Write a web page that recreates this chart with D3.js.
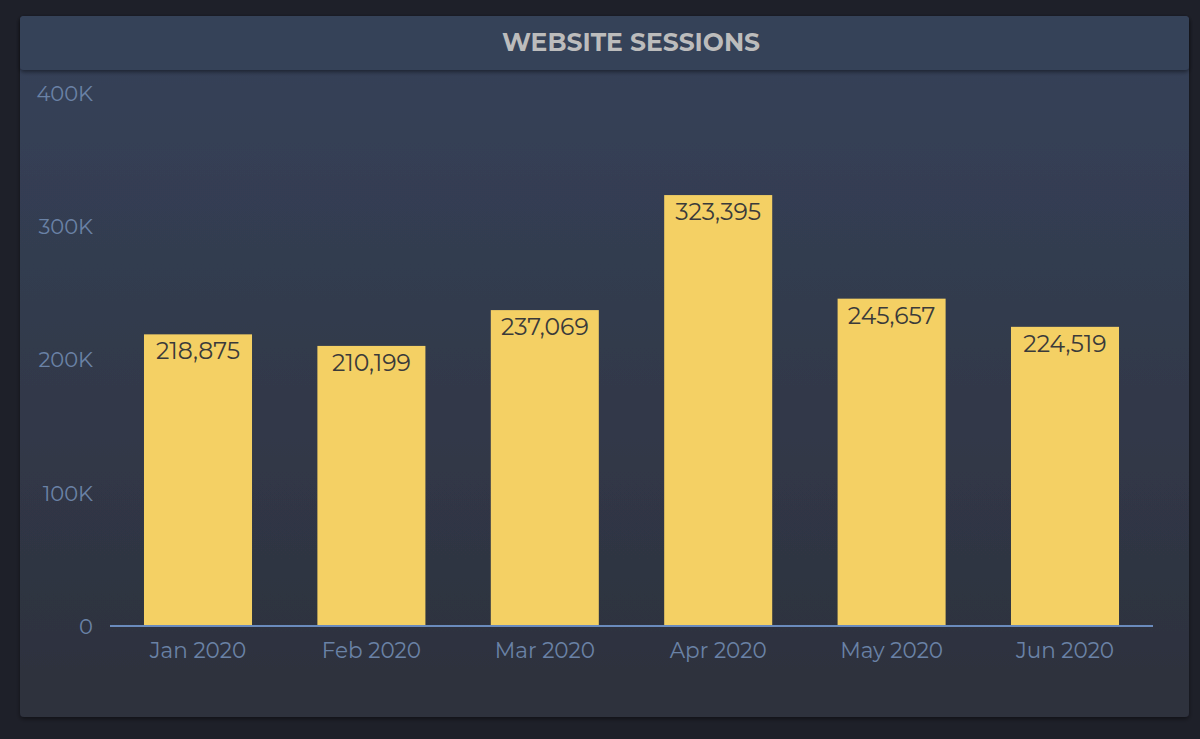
<!DOCTYPE html>
<html><head><meta charset="utf-8">
<script src="https://cdn.jsdelivr.net/npm/d3@7"></script>
<style>
html,body{margin:0;padding:0;background:#1e2029;}
svg{display:block;}
</style></head>
<body>
<svg id="chart" width="1200" height="739"></svg>
<script>
const title = "WEBSITE SESSIONS";
const months = ["Jan 2020","Feb 2020","Mar 2020","Apr 2020","May 2020","Jun 2020"];
const sessions = [218875, 210199, 237069, 323395, 245657, 224519];
const yTicks = [0, 100000, 200000, 300000, 400000];

const FONT = "Montserrat, 'DejaVu Sans', sans-serif";
const svg = d3.select("#chart");
const defs = svg.append("defs");

const bg = defs.append("linearGradient").attr("id","bodyGrad").attr("x1",0).attr("y1",0).attr("x2",0).attr("y2",1);
bg.append("stop").attr("offset","0%").attr("stop-color","#36425a");
bg.append("stop").attr("offset","100%").attr("stop-color","#2d313c");

const sh = defs.append("filter").attr("id","shadow").attr("x","-5%").attr("y","-5%").attr("width","110%").attr("height","115%");
sh.append("feDropShadow").attr("dx",0).attr("dy",2).attr("stdDeviation",2).attr("flood-color","#000").attr("flood-opacity",0.45);

// panel
svg.append("rect").attr("x",20).attr("y",16).attr("width",1169).attr("height",701)
  .attr("rx",4).attr("fill","url(#bodyGrad)").attr("filter","url(#shadow)");
// header
svg.append("rect").attr("x",20).attr("y",16).attr("width",1169).attr("height",54)
  .attr("rx",4).attr("fill","#354259").attr("filter","url(#shadow)");

svg.append("text").attr("x",631).attr("y",51).attr("text-anchor","middle")
  .attr("font-family",FONT).attr("font-weight","bold").attr("font-size",25)
  .attr("fill","#bcbcbc").text(title);

const x = d3.scaleBand().domain(months).range([110,1153]).paddingInner(0.377).paddingOuter(0.196);
const y = d3.scaleLinear().domain([0,400000]).range([626,93]);

const g = svg.append("g");

// bars
g.selectAll("rect.bar").data(sessions).join("rect").attr("class","bar")
  .attr("x",(d,i)=>x(months[i])).attr("width",x.bandwidth())
  .attr("y",d=>y(d)).attr("height",d=>y(0)-y(d)).attr("fill","#f4d064");

// value labels
const fmt = d3.format(",");
g.selectAll("text.val").data(sessions).join("text").attr("class","val")
  .attr("x",(d,i)=>x(months[i])+x.bandwidth()/2).attr("y",d=>y(d)+25)
  .attr("text-anchor","middle").attr("font-family",FONT).attr("font-size",23.5)
  .attr("fill","#3a3a3a").text(d=>fmt(d));

// y axis
const yAxis = d3.axisLeft(y).tickValues(yTicks).tickSize(0).tickPadding(0)
  .tickFormat(d=>d===0?"0":(d/1000)+"K");
const ya = svg.append("g").attr("transform","translate(93,0)").call(yAxis);
ya.select(".domain").remove();
ya.selectAll("text").attr("font-family",FONT).attr("font-size",21).attr("fill","#6a82a6").attr("dy","0.35em");

// x axis
const xAxis = d3.axisBottom(x).tickSize(0).tickPadding(17);
const xa = svg.append("g").attr("transform","translate(0,626)").call(xAxis);
xa.select(".domain").attr("stroke","#6a8bbd").attr("stroke-width",2).attr("d","M110,0H1153");
xa.selectAll("text").attr("font-family",FONT).attr("font-size",21.5).attr("fill","#6a82a6").attr("dy","0.71em");
</script>
</body></html>
